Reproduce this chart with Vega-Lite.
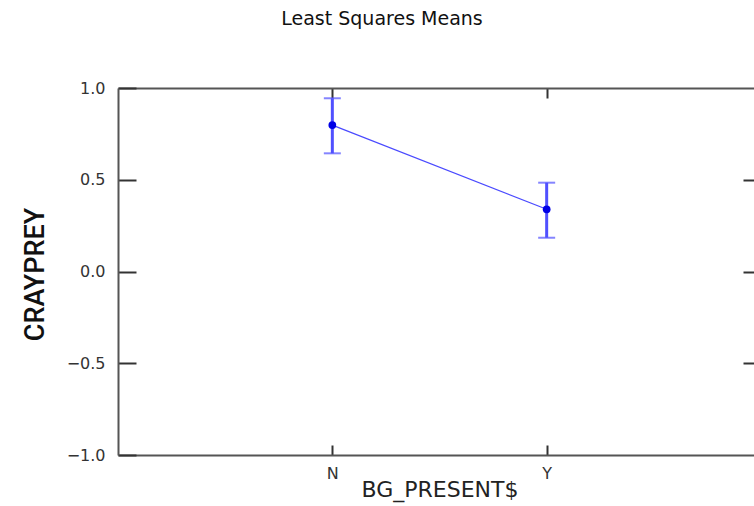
{
  "$schema": "https://vega.github.io/schema/vega-lite/v6.json",
  "autosize": {"type": "none"},
  "width": 636,
  "height": 367,
  "padding": {"left": 118, "top": 88, "right": 0, "bottom": 51},
  "background": "white",
  "title": {
    "text": "Least Squares Means",
    "anchor": "middle",
    "font": "DejaVu Sans",
    "fontSize": 19,
    "fontWeight": "normal",
    "color": "#111111",
    "offset": 51,
    "dx": -54
  },
  "config": {
    "view": {"stroke": null},
    "axis": {
      "domainColor": "#555555",
      "domainWidth": 2,
      "tickColor": "#333333",
      "tickWidth": 2,
      "grid": false,
      "labelFont": "DejaVu Sans",
      "labelFontSize": 16,
      "labelColor": "#333333"
    }
  },
  "data": {
    "values": [
      {"BG": "N", "mean": 0.798, "lo": 0.644, "hi": 0.944},
      {"BG": "Y", "mean": 0.339, "lo": 0.184, "hi": 0.484}
    ]
  },
  "layer": [
    {
      "mark": {"type": "line", "color": "#4a4aff", "strokeWidth": 1.2},
      "encoding": {
        "x": {
          "field": "BG", "type": "nominal",
          "scale": {"type": "point", "padding": 1, "range": [0, 643]},
          "axis": {
            "orient": "bottom", "title": "BG_PRESENT$", "labelAngle": 0,
            "tickSize": -10, "labelPadding": 20,
            "titleFont": "DejaVu Sans", "titleFontSize": 22, "titleFontWeight": "normal",
            "titleColor": "#222222", "titleBaseline": "alphabetic", "titleY": 41
          }
        },
        "y": {
          "field": "mean", "type": "quantitative",
          "scale": {"domain": [-1, 1], "nice": false, "zero": false},
          "axis": {
            "orient": "left", "title": "CRAYPREY", "values": [-1, -0.5, 0, 0.5, 1],
            "format": ".1f", "tickSize": -18, "labelPadding": 31,
            "titleFont": "Roboto", "titleFontSize": 27, "titleFontWeight": 500,
            "titleColor": "#111111", "titleBaseline": "alphabetic", "titleX": -75, "titleY": 186,
            "titleAlign": "center", "titleAngle": -90
          }
        }
      }
    },
    {
      "mark": {"type": "rule", "color": "#5050ff", "strokeWidth": 3},
      "encoding": {
        "x": {
          "field": "BG", "type": "nominal",
          "scale": {"type": "point", "padding": 1, "range": [0, 643]},
          "axis": {"orient": "top", "labels": false, "title": null, "tickSize": -10}
        },
        "y": {
          "field": "lo", "type": "quantitative",
          "scale": {"domain": [-1, 1], "nice": false, "zero": false},
          "axis": {"orient": "right", "labels": false, "title": null, "tickSize": -18, "offset": 7, "values": [-0.5, 0, 0.5]}
        },
        "y2": {"field": "hi"}
      }
    },
    {
      "mark": {"type": "tick", "color": "#5050ff", "size": 17, "thickness": 2, "orient": "horizontal"},
      "encoding": {
        "x": {"field": "BG", "type": "nominal", "scale": {"type": "point", "padding": 1, "range": [0, 643]}, "axis": null},
        "y": {"field": "lo", "type": "quantitative", "scale": {"domain": [-1, 1], "nice": false, "zero": false}, "axis": null}
      }
    },
    {
      "mark": {"type": "tick", "color": "#5050ff", "size": 17, "thickness": 2, "orient": "horizontal"},
      "encoding": {
        "x": {"field": "BG", "type": "nominal", "scale": {"type": "point", "padding": 1, "range": [0, 643]}, "axis": null},
        "y": {"field": "hi", "type": "quantitative", "scale": {"domain": [-1, 1], "nice": false, "zero": false}, "axis": null}
      }
    },
    {
      "mark": {"type": "point", "filled": true, "color": "#0000e6", "size": 60, "opacity": 1},
      "encoding": {
        "x": {"field": "BG", "type": "nominal", "scale": {"type": "point", "padding": 1, "range": [0, 643]}, "axis": null},
        "y": {"field": "mean", "type": "quantitative", "scale": {"domain": [-1, 1], "nice": false, "zero": false}, "axis": null}
      }
    }
  ],
  "resolve": {"axis": {"x": "independent", "y": "independent"}}
}
